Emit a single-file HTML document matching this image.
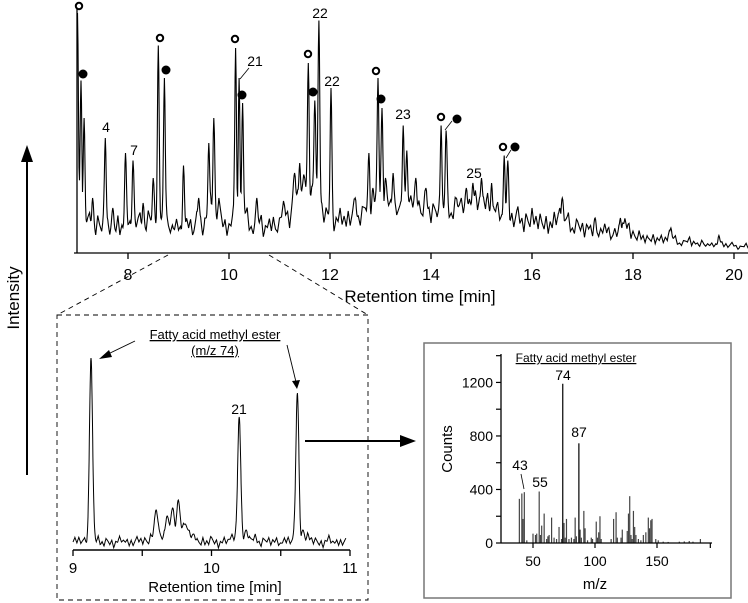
<!DOCTYPE html>
<html><head><meta charset="utf-8"><style>
body{margin:0;background:#fff;}
svg{display:block;font-family:"Liberation Sans",sans-serif;}
</style></head><body>
<svg id="s" width="748" height="603" viewBox="0 0 748 603">
<g id="main"></g>
<g id="ins"></g>
<g id="ms"></g>
<g>
<line x1="27" y1="160" x2="27" y2="475" stroke="#000" stroke-width="2"/>
<polygon points="27,145 21,162 33,162" fill="#000"/>
<text x="19" y="298" font-size="17" text-anchor="middle" transform="rotate(-90 19 298)">Intensity</text>
</g>
</svg>
<script>
// ---------- main chromatogram data ----------
const mainBaseline=[16,12,13,9,12,10,11,8,12,9,
13,10,12,9,14,11,15,10,12,9,
11,8,12,9,13,10,16,14,18,11,
10,12,9,14,11,10,13,9,11,10,
12,18,14,24,20,28,22,26,20,14,
15,12,13,14,12,16,14,18,16,20,
18,22,17,20,16,19,18,21,16,18,
15,17,14,18,15,19,16,21,17,22,
18,20,15,17,14,15,13,14,12,13,
12,13,11,12,10,14,15,11,10,11,
9,10,8,9,8,10,7,8,9,11,
7,6,6,5,6,5,5,7,5,4,
4,5,4,3,4,3,3,4,3,3,
3,2,3,2];
const mainNoise=[0,4,-2,3,-3,1,5,-1,2,-4,3,0,-2,6,-1,2,-3,4,1,-2,3,-4,2,0,5,-2,1,-3,4,-1,2,6,-2,0,-3,3,1,-1,4,-4,2,0,3,-2,5,-1,-3,2,0,4,-2,1,-4];
const mainPeakTimes=[7.0,7.07,7.13,7.3,7.55,7.7,7.95,8.1,8.3,8.5,8.6,8.72,9.1,9.4,9.6,9.7,10.13,10.2,10.27,10.55,11.3,11.4,11.57,11.7,11.78,12.02,12.5,12.77,12.85,12.95,13.03,13.1,13.25,13.45,13.52,13.7,13.9,14.2,14.3,14.5,14.7,14.83,15.0,15.2,15.45,15.52,16.55,16.6,17.25,17.75,17.8,18.75,19.7];
const mainPeakValues=[96,69,54,22,46,18,40,37,20,30,83,70,35,22,44,54,82,70,60,22,32,36,76,61,93,66,22,40,26,70,58,30,32,51,41,30,26,51,49,22,26,28,30,28,39,37,18,22,14,14,12,10,7];
const mainTicks=[8,10,12,14,16,18,20];
// ---------- inset data ----------
const insBaseline=[4,5,3,6,3,4,3,5,3,4, 5,4,9,6,11,8,12,6,4,3, 5,3,4,6,5,4,6,3,5,4, 3,5,4,3,6,4,3,5,3,4, 4];
const insNoise=[0,2,-1,1.5,-1.5,0.5,2.5,-0.5,1,-2,1.5,0,-1,3,-0.5,1,-1.5,2,0.5,-1,1.5,-2,1,0,2.5,-1,0.5];
const insPeakTimes=[9.13,9.6,9.68,9.72,9.76,9.81,9.87,10.2,10.25,10.62,10.66];
const insPeakValues=[96,20,17,21,25,13,8,66.5,10,78.5,10];
const insTicks=[9,10,11];
// ---------- mass spectrum data ----------
const msMz=[39,41,42,43,45,50,52,53,55,56,57,59,61,62,63,65,67,69,71,73,74,75,76,77,79,81,83,84,85,87,88,89,91,92,94,97,98,101,102,103,104,105,113,115,117,118,121,122,126,127,128,129,130,131,132,133,135,137,139,141,143,144,145,146,149,151,155,159,168,172,176,179,185];
const msCounts=[330,370,180,380,20,70,60,70,385,60,130,220,30,50,60,190,40,30,120,30,1190,150,40,180,30,40,30,190,50,745,100,40,240,110,20,40,30,160,40,80,200,30,30,180,230,40,40,100,90,220,350,60,30,240,120,60,30,20,60,80,190,110,170,180,30,20,10,8,10,12,15,10,30];
const msYTicks=[0,400,800,1200];
const msXTicks=[50,100,150];

const NS='http://www.w3.org/2000/svg';
function mk(tag,attrs,parent,text){const e=document.createElementNS(NS,tag);for(const k in attrs)e.setAttribute(k,attrs[k]);if(text!==undefined)e.textContent=text;parent.appendChild(e);return e;}
function trace(base,noise,nscale,t0,dt,times,vals,sig,tA,tB,step,nstep){
  const pts=[];
  for(let t=tA;t<=tB+1e-9;t+=step){
    const f=(t-t0)/dt,i=Math.min(base.length-2,Math.floor(f)),r=f-i;
    const nf=(t-tA)/nstep,ni=Math.floor(nf),nr=nf-ni;
    const nz=noise[ni%noise.length]*(1-nr)+noise[(ni+1)%noise.length]*nr;
    const b=base[i]*(1-r)+base[i+1]*r;
    const bb=Math.max(0.5,b+nz*nscale(b));
    let add=0;
    for(let k=0;k<times.length;k++){const g=Math.exp(-Math.pow((t-times[k])/sig,2)/2);add=Math.max(add,(vals[k]-bb)*g);}
    pts.push([t,bb+add]);
  }return pts;
}
// ---- main ----
const M=document.getElementById('main');
const mx=t=>128+(t-8)*50.5, my=v=>253-v*2.5;
const mp=trace(mainBaseline,mainNoise,b=>Math.min(1,b/12),7,0.1,mainPeakTimes,mainPeakValues,0.017,7.0,20.3,0.01,0.04);
const ml=mk('polyline',{points:mp.map(p=>mx(p[0]).toFixed(1)+','+my(p[1]).toFixed(1)).join(' '),fill:'none',stroke:'#000','stroke-width':1.1},M);


mk('line',{x1:77,y1:3,x2:77,y2:253,stroke:'#000','stroke-width':1.3,},M);
mk('line',{x1:74,y1:253,x2:748,y2:253,stroke:'#000','stroke-width':1.3,},M);
mainTicks.forEach(t=>{
  const a=mk('line',{x1:mx(t),y1:253,x2:mx(t),y2:259,stroke:'#000','stroke-width':1.3},M);
  
  
  const l=mk('text',{x:mx(t),y:280,'font-size':16,'text-anchor':'middle'},M,String(t));
  
  
});
mk('text',{x:420,y:302,'font-size':17,'text-anchor':'middle',},M,'Retention time [min]');
const open=[[79,6],[160,38],[235,39],[308,54],[376,71],[441,117],[503,147]];
const filled=[[83,74],[166,70],[242,95],[313,92],[381,99],[457,119],[515,147]];
open.forEach(p=>mk('circle',{cx:p[0],cy:p[1],r:3.2,fill:'#fff',stroke:'#000','stroke-width':2,},M));
filled.forEach(p=>mk('circle',{cx:p[0],cy:p[1],r:4.5,fill:'#000',},M));
[[106,132,'4'],[134,155,'7'],[255,66,'21'],[320,18,'22'],[332,86,'22'],[403,119,'23'],[474,178,'25']].forEach(a=>mk('text',{x:a[0],y:a[1],'font-size':14,'text-anchor':'middle',},M,a[2]));
[[249,68,240,79],[452,121,445,130],[511,150,506,158]].forEach(a=>mk('line',{x1:a[0],y1:a[1],x2:a[2],y2:a[3],stroke:'#000','stroke-width':0.8,},M));
mk('line',{x1:168,y1:255,x2:57,y2:315,stroke:'#000','stroke-width':0.9,'stroke-dasharray':'5,4',},M);
mk('line',{x1:269,y1:255,x2:368,y2:315,stroke:'#000','stroke-width':0.9,'stroke-dasharray':'5,4',},M);
// ---- inset ----
const I=document.getElementById('ins');
mk('rect',{x:57,y:315,width:311,height:285,fill:'none',stroke:'#000','stroke-width':0.9,'stroke-dasharray':'5,4',},I);
const ix=t=>73+(t-9)*138.5, iy=v=>550-v*2;
const ip=trace(insBaseline,insNoise,b=>1,9,0.05,insPeakTimes,insPeakValues,0.011,9.0,10.97,0.002,0.014);
const il=mk('polyline',{points:ip.map(p=>ix(p[0]).toFixed(1)+','+iy(p[1]).toFixed(1)).join(' '),fill:'none',stroke:'#000','stroke-width':1},I);


mk('line',{x1:73,y1:550,x2:350,y2:550,stroke:'#000','stroke-width':1.5,},I);
[9,9.5,10,10.5,11].forEach(t=>mk('line',{x1:ix(t),y1:550,x2:ix(t),y2:556,stroke:'#000','stroke-width':1.3,},I));
insTicks.forEach(t=>{
  const l=mk('text',{x:ix(t),y:573,'font-size':15,'text-anchor':'middle'},I,String(t));
  
  
});
mk('text',{x:215,y:592,'font-size':15,'text-anchor':'middle',},I,'Retention time [min]');
mk('text',{x:215,y:339,'font-size':13,'text-anchor':'middle','text-decoration':'underline',},I,'Fatty acid methyl ester');
mk('text',{x:215,y:355,'font-size':13,'text-anchor':'middle','text-decoration':'underline',},I,'(m/z 74)');
mk('line',{x1:135,y1:341,x2:106,y2:355,stroke:'#000','stroke-width':0.9,},I);
mk('polygon',{points:'99,359 109,350 112,357',fill:'#000'},I);
mk('line',{x1:287,y1:345,x2:296,y2:382,stroke:'#000','stroke-width':0.9,},I);
mk('polygon',{points:'297,389 292,381 300,380',fill:'#000'},I);
mk('text',{x:239,y:414,'font-size':14,'text-anchor':'middle',},I,'21');
mk('line',{x1:305,y1:441,x2:402,y2:441,stroke:'#000','stroke-width':2,},I);
mk('polygon',{points:'416,441 400,435 400,447',fill:'#000'},I);
// ---- mass spectrum ----
const S=document.getElementById('ms');
mk('rect',{x:424,y:343,width:307,height:255,fill:'none',stroke:'#777','stroke-width':1.5,},S);
const sx=m=>533+(m-50)*1.24, sy=c=>543-c*0.1338;
msMz.forEach((m,i)=>{
  const b=mk('line',{x1:sx(m),y1:543,x2:sx(m),y2:sy(msCounts[i]),stroke:msCounts[i]>700?'#000':'#444','stroke-width':1.2},S);
  
  
});
mk('line',{x1:501,y1:354,x2:501,y2:543,stroke:'#000','stroke-width':1.3,},S);
mk('line',{x1:501,y1:543,x2:712,y2:543,stroke:'#000','stroke-width':1.3,},S);
[0,200,400,600,800,1000,1200,1400].forEach(c=>mk('line',{x1:496,y1:sy(c),x2:501,y2:sy(c),stroke:'#000','stroke-width':1.2,},S));
msYTicks.forEach(c=>{
  const l=mk('text',{x:493,y:sy(c)+5,'font-size':14,'text-anchor':'end'},S,String(c));
  
  
});
msXTicks.concat([193]).forEach(m=>mk('line',{x1:sx(m),y1:543,x2:sx(m),y2:548,stroke:'#000','stroke-width':1.2,},S));
msXTicks.forEach(m=>{
  const l=mk('text',{x:sx(m),y:566,'font-size':14,'text-anchor':'middle'},S,String(m));
  
  
});
mk('text',{x:595,y:589,'font-size':15,'text-anchor':'middle',},S,'m/z');
mk('text',{x:452,y:449,'font-size':15,'text-anchor':'middle',transform:'rotate(-90 452 449)',},S,'Counts');
mk('text',{x:576,y:362,'font-size':12,'text-anchor':'middle','text-decoration':'underline',},S,'Fatty acid methyl ester');
[[43,520,470],[55,540,487],[74,563,380],[87,579,437]].forEach(a=>mk('text',{x:a[1],y:a[2],'font-size':14,'text-anchor':'middle',},S,String(a[0])));
mk('line',{x1:521,y1:474,x2:524,y2:489,stroke:'#000','stroke-width':0.8,},S);
</script>
</body></html>
